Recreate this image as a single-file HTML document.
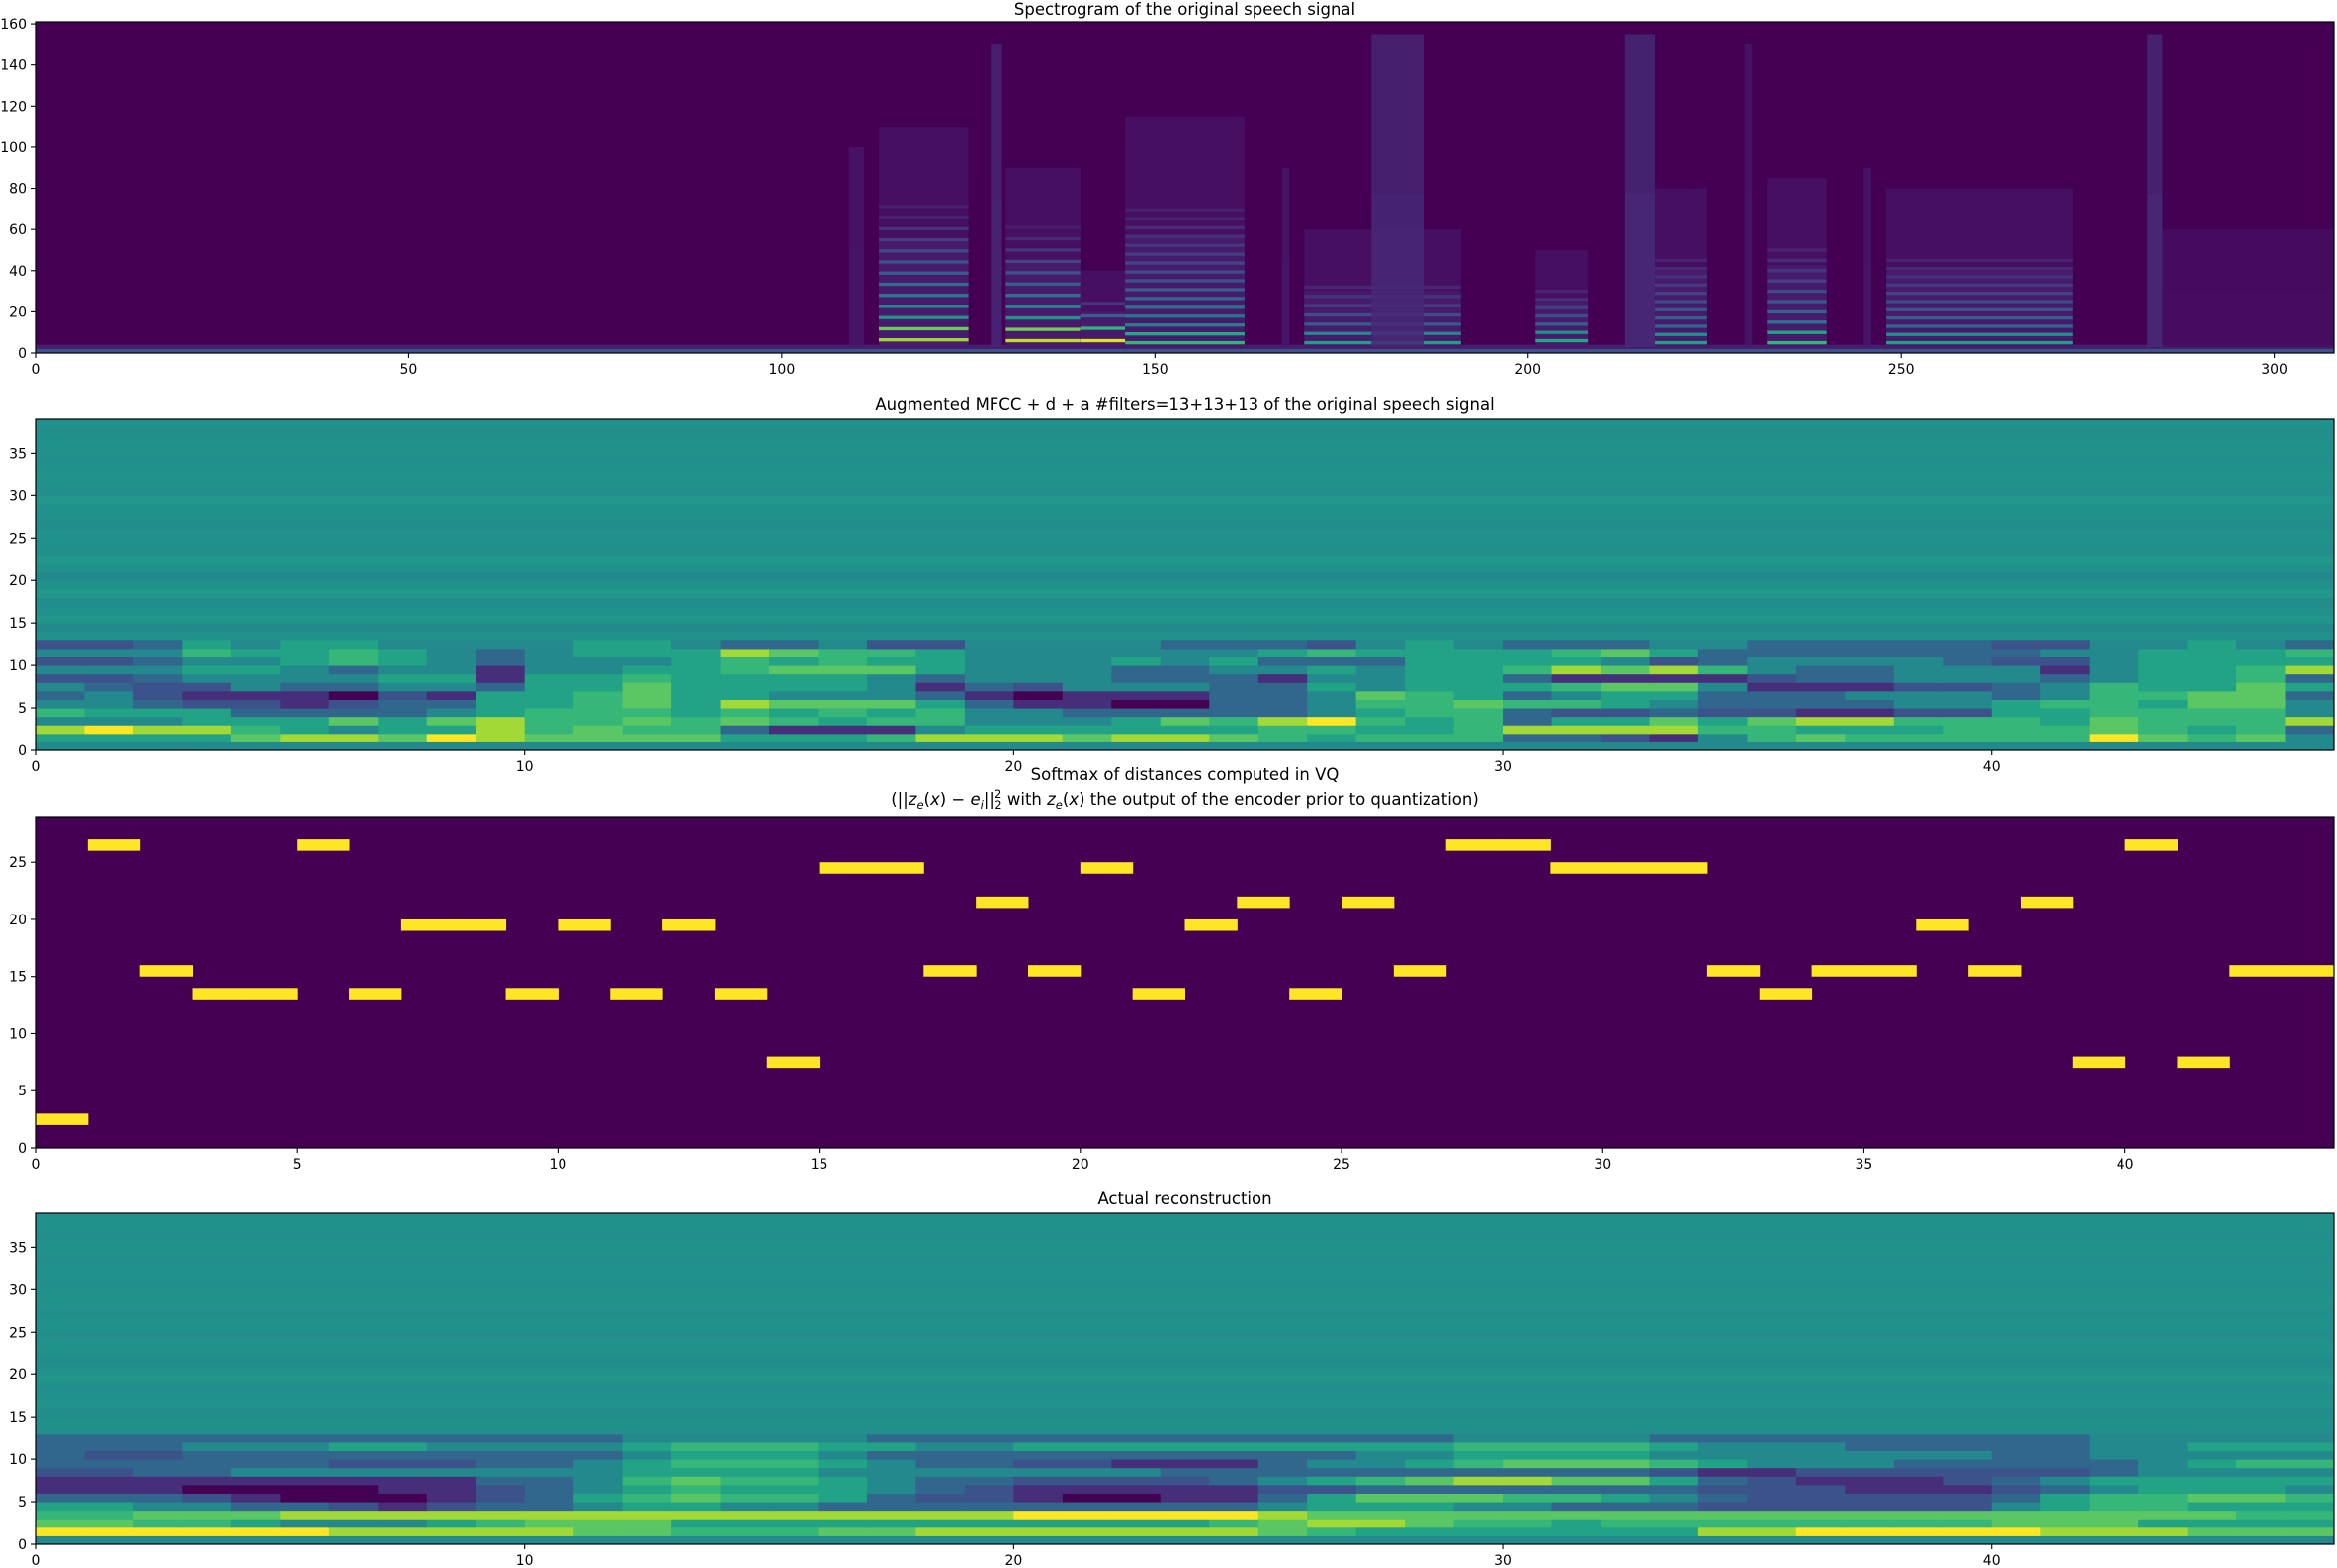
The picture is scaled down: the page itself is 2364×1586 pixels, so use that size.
<!DOCTYPE html>
<html><head><meta charset="utf-8"><title>VQ speech figure</title>
<style>
html,body{margin:0;padding:0;background:#fff;}
svg{display:block;font-family:"DejaVu Sans","Liberation Sans",sans-serif;}
</style></head>
<body>
<svg id="fig" width="2364" height="1586" viewBox="0 0 2364 1586" xmlns="http://www.w3.org/2000/svg"></svg>
<script>
// ---------- data ----------
const segStart   = [109,113,128,130,140,146,167,170,179,201,213,217,229,232,245,248,283,285];
const segEnd     = [111,125,129.5,140,146,162,168,191,186,208,217,224,230,240,246,273,285,308];
const segTop     = [100,110,150,90,40,115,90,60,155,50,155,80,150,85,90,80,155,60];
const segAmp     = [0.2,0.85,0.35,0.9,0.95,0.65,0.2,0.55,0.35,0.6,0.4,0.55,0.2,0.65,0.2,0.55,0.4,0.12];
const segSpacing = [0,5.4,0,5.5,6,4.3,0,4.5,0,4,0,4,0,5,0,4,0,0];
const segBase    = [0,6.4,0,6,6,5,0,5,0,6,0,5,0,5,0,5,0,0];
const specXTicks = [0,50,100,150,200,250,300];
const specYTicks = [0,20,40,60,80,100,120,140,160];

const mfccLow = [
"44444444444444444444444444444444444444444444444",
"555578879877775556888788"+"76566633214676666697674",
"898865455867663111455555"+"56655688886655566676563",
"444555757866767656644457"+"68965635575788666576668",
"655533334566656565644333"+"33456632232211225566664",
"443221233556758777531100"+"33466766543333445665774",
"342111021556755444310111"+"33476534553334443466773",
"432243344355755554132444"+"33545556774111223465575",
"223444455155655554344433"+"31445531111233444345563",
"444554344144556777544433"+"44545568786433444145568",
"223445654344456565544454"+"53335555423444432245555",
"444655654345558766544444"+"45655556753333333445556",
"223545544445543342244443"+"33245433344333332244543"];
const mfccUpper = [0.5,0.47,0.52,0.5,0.48,0.53,0.5,0.47,0.5,0.52,0.49,0.5,0.51,0.48,0.5,0.5,0.52,0.49,0.5,0.51,0.5,0.49,0.5,0.5,0.49,0.5];

const reconLow = [
"44444444444444444444444444444444444444444444444",
"999999888887766677888888"+"87655555558899999888777",
"776654445677755555555555"+"67887665666666667775555",
"667778888888888888889999"+"98777777777777777777766",
"554433212334554433333333"+"34555443332222224566555",
"333210001235676653221001"+"13577766543222223566776",
"111000011234565554321111"+"12233333332221112345554",
"111111111334676654332222"+"34567887753211123455555",
"223344444444555544444443"+"33333333321122222234444",
"333333222334566654332211"+"13445677765444333334566",
"322333333333455543333333"+"33344555544444443344444",
"333444554444566655445555"+"55555666654443333344555",
"333333333333444443333333"+"33333444433333333344444"];
const reconUpper = [0.49,0.5,0.48,0.51,0.5,0.49,0.52,0.5,0.48,0.5,0.51,0.49,0.5,0.5,0.49,0.51,0.5,0.49,0.5,0.5,0.49,0.5,0.5,0.49,0.5,0.5];
const mfccXTicks = [0,10,20,30,40];
const mfccYTicks = [0,5,10,15,20,25,30,35];

const vqIndex = [2,26,15,13,13,26,13,19,19,13,19,13,19,13,7,24,24,15,21,15,24,13,19,21,13,21,15,26,26,24,24,24,15,13,15,15,19,15,21,7,26,7,15,15];
const vqXTicks = [0,5,10,15,20,25,30,35,40];
const vqYTicks = [0,5,10,15,20,25];

// ---------- helpers ----------
const VS=["#440154","#482475","#414487","#355f8d","#2a788e","#21918c","#22a884","#44bf70","#7ad151","#bddf26","#fde725"];
function hx(c){return [parseInt(c.substr(1,2),16),parseInt(c.substr(3,2),16),parseInt(c.substr(5,2),16)];}
function viridis(v){v=Math.max(0,Math.min(1,v));const p=v*10,i=Math.min(9,Math.floor(p)),f=p-i;const a=hx(VS[i]),b=hx(VS[i+1]);
 return "rgb("+a.map((x,k)=>Math.round(x+(b[k]-x)*f)).join(",")+")";}
const LEVEL=[0,0.13,0.25,0.33,0.47,0.58,0.66,0.74,0.86,1.0];
const NS="http://www.w3.org/2000/svg";
const svg=document.getElementById("fig");
function el(tag,attrs,parent){const e=document.createElementNS(NS,tag);for(const k in attrs)e.setAttribute(k,attrs[k]);(parent||svg).appendChild(e);return e;}

function axes(name,L,T,R,B,xmax,ymax,xticks,yticks){
  const g=el("g",{});
  
  
  const sx=v=>L+(R-L)*v/xmax, sy=v=>B-(B-T)*v/ymax;
  const plot=el("g",{},g);
  
  
  return {g,plot,sx,sy,finish(){
    const fr=el("rect",{x:L,y:T,width:R-L,height:B-T,fill:"none",stroke:"#000","stroke-width":1.2},g);
    
    
    const xa=el("g",{},g);
    
    
    xticks.forEach(t=>{const x=sx(t);
      el("line",{x1:x,x2:x,y1:B,y2:B+5,stroke:"#000","stroke-width":1.1},xa);
      const tx=el("text",{x:x,y:B+21,"font-size":"14","text-anchor":"middle",fill:"#000"},xa);tx.textContent=t;
      
      });
    const ya=el("g",{},g);
    
    
    yticks.forEach(t=>{const y=sy(t);
      el("line",{x1:L-5,x2:L,y1:y,y2:y,stroke:"#000","stroke-width":1.1},ya);
      const tx=el("text",{x:L-9,y:y+5,"font-size":"14","text-anchor":"end",fill:"#000"},ya);tx.textContent=t;
      
      });
  }};
}
function title(txt,y,name){const t=el("text",{x:1198.5,y:y,"font-size":"16.5","text-anchor":"middle",fill:"#000"});t.textContent=txt;
  
  return t;}

// ---------- Panel 1: spectrogram ----------
(function(){
  const a=axes("spectrogram-panel",36,22,2361,357,308,161,specXTicks,specYTicks);
  const p=a.plot;
  const defs=el("defs",{},svg);
  const gr=el("linearGradient",{id:"vfade",x1:"0",y1:"1",x2:"0",y2:"0"},defs);
  el("stop",{offset:"0","stop-color":"#fff","stop-opacity":"1"},gr);
  el("stop",{offset:"1","stop-color":"#fff","stop-opacity":"0.15"},gr);
  el("rect",{x:36,y:22,width:2325,height:335,fill:viridis(0.0)},p);
  el("rect",{x:36,y:a.sy(4),width:2325,height:a.sy(2)-a.sy(4),fill:viridis(0.08)},p);
  el("rect",{x:36,y:a.sy(2),width:2325,height:a.sy(0)-a.sy(2),fill:viridis(0.25)},p);
  for(let i=0;i<segStart.length;i++){
    const x0=a.sx(segStart[i]),x1=a.sx(segEnd[i]),top=segTop[i],amp=segAmp[i],sp=segSpacing[i],base=segBase[i];
    const sg=el("g",{},p);
    
    
    if(sp===0){
      el("rect",{x:x0,y:a.sy(top),width:x1-x0,height:a.sy(3)-a.sy(top),fill:viridis(amp*0.35),opacity:0.7},sg);
      el("rect",{x:x0,y:a.sy(top*0.5),width:x1-x0,height:a.sy(3)-a.sy(top*0.5),fill:viridis(amp*0.3),opacity:0.5},sg);
    }else{
      el("rect",{x:x0,y:a.sy(top),width:x1-x0,height:a.sy(3)-a.sy(top),fill:viridis(0.04)},sg);
      el("rect",{x:x0,y:a.sy(top*0.5),width:x1-x0,height:a.sy(3)-a.sy(top*0.5),fill:viridis(0.07)},sg);
      for(let f=base,k=0;f<top;f+=sp,k++){
        const r=1-(f-base)/(top-base);
        const v=amp*Math.pow(r,2.0)*(k<2?1:0.75);
        if(v<0.08)continue;
        el("rect",{x:x0,y:a.sy(f+0.8),width:x1-x0,height:a.sy(f-0.8)-a.sy(f+0.8),fill:viridis(v)},sg);
      }
    }
  }
  a.finish();
  title("Spectrogram of the original speech signal",15,"spectrogram-title");
})();

function mfccPanel(name,T,B,low,upper){
  const a=axes(name,36,T,2361,B,47,39,mfccXTicks,mfccYTicks);
  const p=a.plot;
  for(let r=13;r<39;r++){
    const c=el("rect",{x:36,y:a.sy(r+1),width:2325,height:a.sy(r)-a.sy(r+1)+0.5,fill:viridis(upper[r-13])},p);
    
    
  }
  for(let r=0;r<low.length;r++){
    for(let c=0;c<47;c++){
      const ch=low[r].charAt(c);const d=ch===""?4:parseInt(ch,10);
      const cell=el("rect",{x:a.sx(c),y:a.sy(r+1),width:a.sx(c+1)-a.sx(c)+0.5,height:a.sy(r)-a.sy(r+1)+0.5,fill:viridis(LEVEL[d])},p);
      
      
    }
  }
  a.finish();
}
mfccPanel("mfcc-panel",424,759,mfccLow,mfccUpper);
title("Augmented MFCC + d + a #filters=13+13+13 of the original speech signal",415,"mfcc-title");

(function(){
  const a=axes("vq-softmax-panel",36,826,2361,1161,44,29,vqXTicks,vqYTicks);
  const p=a.plot;
  el("rect",{x:36,y:826,width:2325,height:335,fill:viridis(0)},p);
  vqIndex.forEach((v,i)=>{
    const b=el("rect",{x:a.sx(i),y:a.sy(v+1),width:a.sx(i+1)-a.sx(i)+0.5,height:a.sy(v)-a.sy(v+1),fill:viridis(1)},p);
    
    
  });
  a.finish();
  title("Softmax of distances computed in VQ",789,"vq-title");
  const t=el("text",{x:1198.5,y:814,"font-size":"16.5","text-anchor":"middle",fill:"#000"});
  
  
  t.innerHTML='(||<tspan font-style="italic">z</tspan><tspan font-style="italic" font-size="11.5" dy="4">e</tspan><tspan dy="-4">(</tspan><tspan font-style="italic">x</tspan>) − <tspan font-style="italic">e</tspan><tspan font-style="italic" font-size="11.5" dy="4">i</tspan><tspan dy="-4">||</tspan><tspan font-size="11.5" dy="-7">2</tspan><tspan font-size="11.5" dx="-7" dy="11">2</tspan><tspan dy="-4"> with </tspan><tspan font-style="italic">z</tspan><tspan font-style="italic" font-size="11.5" dy="4">e</tspan><tspan dy="-4">(</tspan><tspan font-style="italic">x</tspan>) the output of the encoder prior to quantization)';
})();

mfccPanel("reconstruction-panel",1227,1562,reconLow,reconUpper);
title("Actual reconstruction",1218,"reconstruction-title");
</script>
</body></html>
